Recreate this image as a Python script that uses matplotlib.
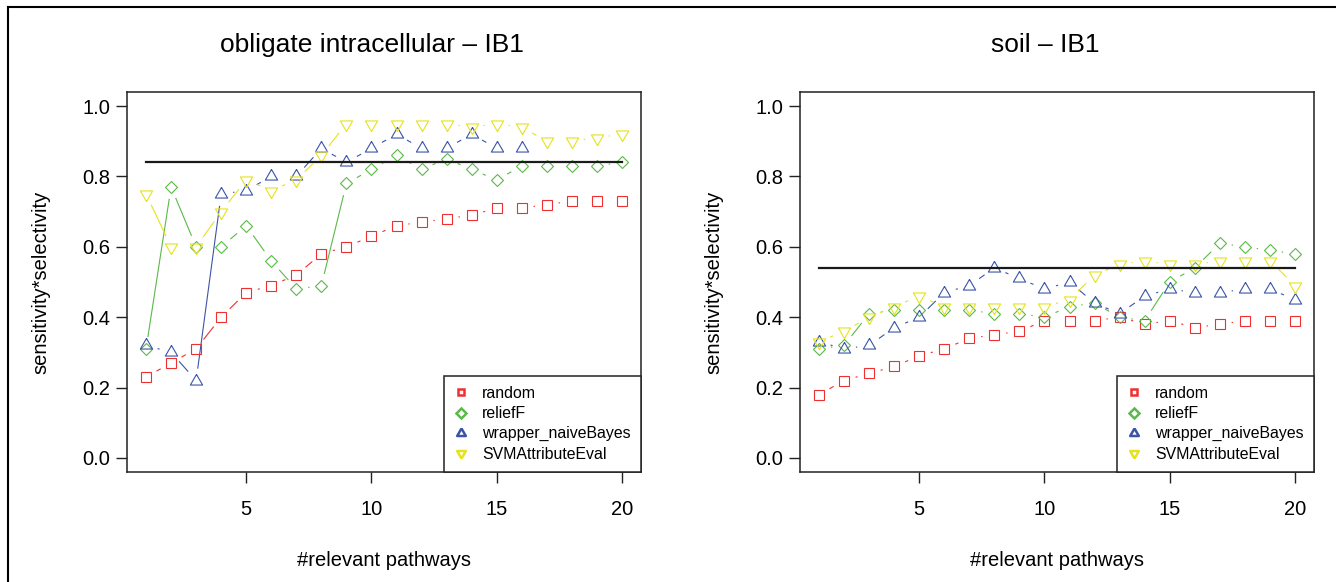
import numpy as np
import matplotlib
matplotlib.use("Agg")
import matplotlib.pyplot as plt
from matplotlib.lines import Line2D

plt.rcParams["font.family"] = ["Liberation Sans", "DejaVu Sans"]

pathways = list(range(1, 21))
series_names = ["random", "reliefF", "wrapper_naiveBayes", "SVMAttributeEval"]

# obligate intracellular - IB1
obl_random = [0.23, 0.27, 0.31, 0.40, 0.47, 0.49, 0.52, 0.58, 0.60, 0.63,
              0.66, 0.67, 0.68, 0.69, 0.71, 0.71, 0.72, 0.73, 0.73, 0.73]
obl_relief = [0.31, 0.77, 0.60, 0.60, 0.66, 0.56, 0.48, 0.49, 0.78, 0.82,
              0.86, 0.82, 0.85, 0.82, 0.79, 0.83, 0.83, 0.83, 0.83, 0.84]
obl_wrapper = [0.32, 0.30, 0.22, 0.75, 0.76, 0.80, 0.80, 0.88, 0.84, 0.88,
               0.92, 0.88, 0.88, 0.92, 0.88, 0.88]
obl_svm = [0.75, 0.60, 0.60, 0.70, 0.79, 0.76, 0.79, 0.86, 0.95, 0.95,
           0.95, 0.95, 0.95, 0.94, 0.95, 0.94, 0.90, 0.90, 0.91, 0.92]
obl_reference = 0.84

# soil - IB1
soil_random = [0.18, 0.22, 0.24, 0.26, 0.29, 0.31, 0.34, 0.35, 0.36, 0.39,
               0.39, 0.39, 0.40, 0.38, 0.39, 0.37, 0.38, 0.39, 0.39, 0.39]
soil_relief = [0.31, 0.32, 0.41, 0.42, 0.42, 0.42, 0.42, 0.41, 0.41, 0.40,
               0.43, 0.44, 0.40, 0.39, 0.50, 0.54, 0.61, 0.60, 0.59, 0.58]
soil_wrapper = [0.33, 0.31, 0.32, 0.37, 0.40, 0.47, 0.49, 0.54, 0.51, 0.48,
                0.50, 0.44, 0.41, 0.46, 0.48, 0.47, 0.47, 0.48, 0.48, 0.45]
soil_svm = [0.33, 0.36, 0.40, 0.43, 0.46, 0.43, 0.43, 0.43, 0.43, 0.43,
            0.45, 0.52, 0.55, 0.56, 0.55, 0.55, 0.56, 0.56, 0.56, 0.49]
soil_reference = 0.54

colors = ["#ee3030", "#5ab947", "#3a54a8", "#e6e21c"]

# R-style triangles (centroid at the data point)
tri_up = [(0, 1.5551), (1.3468, -0.7776), (-1.3468, -0.7776), (0, 1.5551)]
tri_down = [(0, -1.5551), (1.3468, 0.7776), (-1.3468, 0.7776), (0, -1.5551)]
markers = ["s", "D", tri_up, tri_down]
msizes = [7.2, 6.2, 10.2, 10.2]
legend_ms = [5.0, 4.6, 7.2, 7.2]

W, H = 1336, 582
fig = plt.figure(figsize=(W / 100, H / 100), dpi=100)
fig.patch.set_facecolor("white")


def type_b(ax, xs, ys, color, marker, ms, gap=12.5):
    # points joined by lines that stop short of each point, like R type="b"
    ax.plot(xs, ys, linestyle="none", marker=marker, ms=ms, mfc="none",
            mec=color, mew=0.8, zorder=3)
    pts = ax.transData.transform(np.column_stack([xs, ys]))
    inv = ax.transData.inverted()
    for p0, p1 in zip(pts[:-1], pts[1:]):
        d = p1 - p0
        L = np.hypot(*d)
        if L <= 2 * gap:
            continue
        u = d / L
        seg = inv.transform(np.array([p0 + u * gap, p1 - u * gap]))
        ax.plot(seg[:, 0], seg[:, 1], color=color, lw=0.8, zorder=2)


def panel(left_px, title, title_dx, data, reference):
    ax = fig.add_axes([left_px / W, (H - 472) / H, 514 / W, 380 / H])
    ax.set_xlim(0.24, 20.76)
    ax.set_ylim(-0.04, 1.04)
    for ys, c, m, ms in zip(data, colors, markers, msizes):
        type_b(ax, pathways[:len(ys)], ys, c, m, ms)
    ax.plot([pathways[0], pathways[-1]], [reference, reference],
            color="#1a1a1a", lw=1.6, zorder=4)

    ax.set_xticks([5, 10, 15, 20])
    ax.set_yticks([0.0, 0.2, 0.4, 0.6, 0.8, 1.0])
    ax.set_yticklabels(["0.0", "0.2", "0.4", "0.6", "0.8", "1.0"])
    ax.tick_params(direction="out", length=8, width=1.0, labelsize=14.5,
                   color="#222222")
    ax.tick_params(axis="x", pad=12)
    ax.tick_params(axis="y", pad=4)
    for s in ax.spines.values():
        s.set_linewidth(1.1)
        s.set_color("#222222")

    ax.text(0.5 + title_dx / 514, 1 + 40 / 380, title, fontsize=19,
            ha="center", va="baseline", transform=ax.transAxes)
    ax.set_xlabel("#relevant pathways", fontsize=14.5)
    ax.xaxis.set_label_coords(0.5, (472 - 560) / 380)
    ax.xaxis.label.set_va("center")
    ax.set_ylabel("sensitivity*selectivity", fontsize=14.5)
    ax.yaxis.set_label_coords(-86 / 514, 0.5)
    ax.yaxis.label.set_va("center")

    handles = [Line2D([], [], linestyle="none", marker=m, ms=lm, mfc="none",
                      mec=c, mew=1.8)
               for m, c, lm in zip(markers, colors, legend_ms)]
    leg = ax.legend(handles, series_names, loc="lower right",
                    borderaxespad=0, fontsize=11.4, frameon=True,
                    fancybox=False, framealpha=1, edgecolor="#222222",
                    borderpad=0.65, labelspacing=0.33, handlelength=0.78,
                    handletextpad=0.97)
    leg.get_frame().set_linewidth(1.1)
    leg.set_zorder(5)
    return ax


panel(127, "obligate intracellular \u2013 IB1", -12,
      [obl_random, obl_relief, obl_wrapper, obl_svm], obl_reference)
panel(800, "soil \u2013 IB1", -12,
      [soil_random, soil_relief, soil_wrapper, soil_svm], soil_reference)

# outer frame (left and top edges)
fig.add_artist(Line2D([8 / W, 8 / W], [0, 1 - 7 / H], color="black", lw=1.5))
fig.add_artist(Line2D([8 / W, 1], [1 - 7 / H, 1 - 7 / H], color="black", lw=1.5))

fig.savefig("out.png", dpi=100)
